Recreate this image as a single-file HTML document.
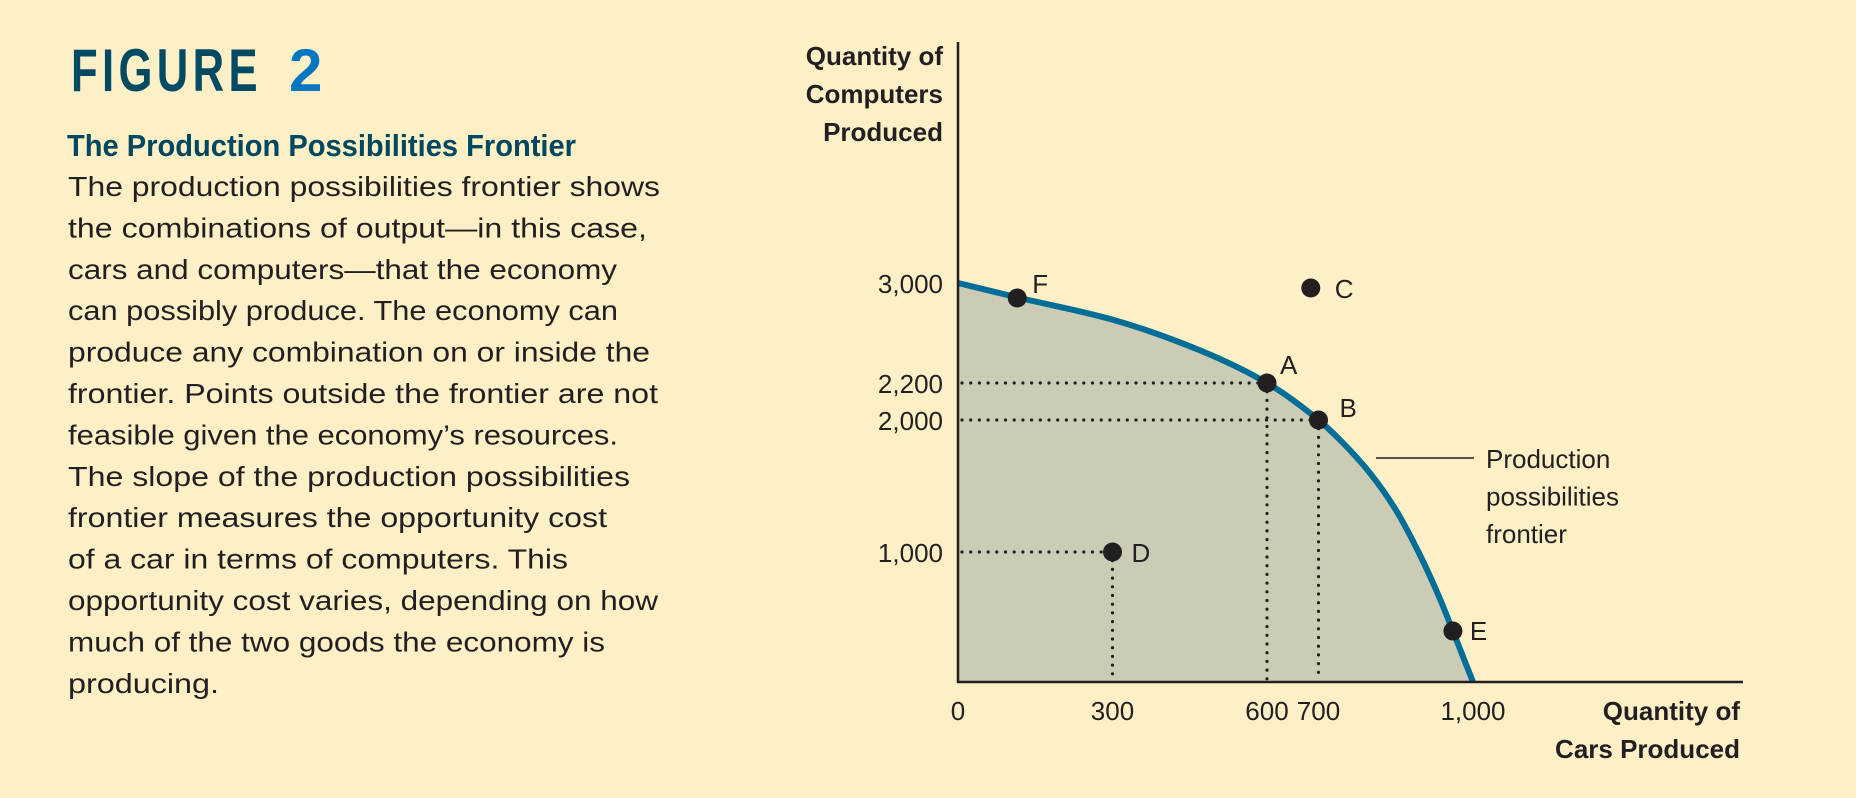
<!DOCTYPE html>
<html><head><meta charset="utf-8"><style>
html,body{margin:0;padding:0;background:#fdefc6;}
svg{display:block;}
text{font-family:"Liberation Sans",sans-serif;fill:#231f20;}
</style></head><body>
<svg id="fig" width="1856" height="798" viewBox="0 0 1856 798">
<rect x="0" y="0" width="1856" height="798" fill="#fdefc6"/>
<g>
<text x="71" y="91" font-size="60" font-weight="bold" style="fill:#004a63;letter-spacing:6px" textLength="191" lengthAdjust="spacingAndGlyphs">FIGURE</text>
<text x="289" y="91" font-size="60" font-weight="bold" style="fill:#0077c0">2</text>
<text x="67" y="156" font-size="31" font-weight="bold" style="fill:#00475f" textLength="509" lengthAdjust="spacingAndGlyphs">The Production Possibilities Frontier</text>
<g font-size="28">
<text x="68" y="196" textLength="592" lengthAdjust="spacingAndGlyphs">The production possibilities frontier shows</text>
<text x="68" y="237.4" textLength="579" lengthAdjust="spacingAndGlyphs">the combinations of output—in this case,</text>
<text x="68" y="278.8" textLength="549" lengthAdjust="spacingAndGlyphs">cars and computers—that the economy</text>
<text x="68" y="320.2" textLength="550" lengthAdjust="spacingAndGlyphs">can possibly produce. The economy can</text>
<text x="68" y="361.6" textLength="582" lengthAdjust="spacingAndGlyphs">produce any combination on or inside the</text>
<text x="68" y="403" textLength="590" lengthAdjust="spacingAndGlyphs">frontier. Points outside the frontier are not</text>
<text x="68" y="444.4" textLength="550" lengthAdjust="spacingAndGlyphs">feasible given the economy’s resources.</text>
<text x="68" y="485.8" textLength="562" lengthAdjust="spacingAndGlyphs">The slope of the production possibilities</text>
<text x="68" y="527.2" textLength="539" lengthAdjust="spacingAndGlyphs">frontier measures the opportunity cost</text>
<text x="68" y="568.6" textLength="500" lengthAdjust="spacingAndGlyphs">of a car in terms of computers. This</text>
<text x="68" y="610" textLength="590" lengthAdjust="spacingAndGlyphs">opportunity cost varies, depending on how</text>
<text x="68" y="651.4" textLength="537" lengthAdjust="spacingAndGlyphs">much of the two goods the economy is</text>
<text x="68" y="692.8" textLength="151" lengthAdjust="spacingAndGlyphs">producing.</text>
</g>
</g>
<g id="chart"></g>
</svg>
<script>
// ---- data ----
const curveCars = [0, 115, 300, 470, 600, 700, 742, 800, 849, 897, 936, 961, 1000];
const curveComputers = [3000, 2885, 2707, 2461, 2200, 2000, 1848, 1598, 1326, 977, 638, 392, 0];
const pointLabels = ['F', 'C', 'A', 'B', 'D', 'E'];
const pointCars = [115, 685, 600, 700, 300, 961];
const pointComputers = [2880, 2960, 2200, 2000, 1000, 392];
const guidePoints = ['A', 'B', 'D'];
const xTicks = [0, 300, 600, 700, 1000];
const xTickLabels = ['0', '300', '600', '700', '1,000'];
const yTicks = [1000, 2000, 2200, 3000];
const yTickLabels = ['1,000', '2,000', '2,200', '3,000'];

// ---- axes (non-uniform vertical scale as in the textbook figure) ----
const X0 = 958, XPX = 0.515;
function xs(v){ return X0 + v * XPX; }
const yDom = [0, 1000, 2000, 2200, 3000];
const yRng = [682, 552, 420, 383, 283];
function ys(v){
  for (let i = 0; i < yDom.length - 1; i++) {
    if (v <= yDom[i+1] || i === yDom.length - 2) {
      const t = (v - yDom[i]) / (yDom[i+1] - yDom[i]);
      return yRng[i] + t * (yRng[i+1] - yRng[i]);
    }
  }
}
const NS = 'http://www.w3.org/2000/svg';
const g = document.getElementById('chart');
function mk(tag, attrs, parent){
  const e = document.createElementNS(NS, tag);
  for (const k in attrs) e.setAttribute(k, attrs[k]);
  (parent || g).appendChild(e);
  return e;
}
// monotone cubic (Fritsch-Carlson) in pixel space
function smooth(pts){
  const n = pts.length, dx = [], m = [], t = [];
  for (let i = 0; i < n - 1; i++) { dx.push(pts[i+1][0]-pts[i][0]); m.push((pts[i+1][1]-pts[i][1])/dx[i]); }
  t[0] = m[0]; t[n-1] = m[n-2];
  for (let i = 1; i < n - 1; i++) {
    if (m[i-1]*m[i] <= 0) t[i] = 0;
    else { const w1 = 2*dx[i]+dx[i-1], w2 = dx[i]+2*dx[i-1]; t[i] = (w1+w2)/(w1/m[i-1]+w2/m[i]); }
  }
  let d = 'M' + pts[0][0] + ',' + pts[0][1];
  for (let i = 0; i < n - 1; i++) {
    const h = dx[i] / 3;
    d += ' C' + (pts[i][0]+h) + ',' + (pts[i][1]+t[i]*h) + ' ' + (pts[i+1][0]-h) + ',' + (pts[i+1][1]-t[i+1]*h) + ' ' + pts[i+1][0] + ',' + pts[i+1][1];
  }
  return d;
}
const cpts = curveCars.map((c, i) => [xs(c), ys(curveComputers[i])]);
const cd = smooth(cpts);

const area = mk('path', {d: cd + ' L' + xs(0) + ',' + ys(0) + ' Z', fill: '#cccbb6'});



guidePoints.forEach(lbl => {
  const i = pointLabels.indexOf(lbl);
  const px = xs(pointCars[i]), py = ys(pointComputers[i]);
  const h = mk('line', {x1: xs(0) + 4, y1: py, x2: px, y2: py, stroke: '#231f20', 'stroke-width': 3.2, 'stroke-linecap': 'round', 'stroke-dasharray': '0 8.7'});
  
  
  const v = mk('line', {x1: px, y1: py, x2: px, y2: ys(0) - 3, stroke: '#231f20', 'stroke-width': 3.2, 'stroke-linecap': 'round', 'stroke-dasharray': '0 8.7'});
  
  
});

const curve = mk('path', {d: cd, fill: 'none', stroke: '#006e96', 'stroke-width': 6});



const yAxis = mk('line', {x1: X0, y1: 42, x2: X0, y2: 683, stroke: '#231f20', 'stroke-width': 2.5});


const xAxis = mk('line', {x1: X0 - 1, y1: 682, x2: 1743, y2: 682, stroke: '#231f20', 'stroke-width': 2.5});



xTicks.forEach((v, i) => {
  const t = mk('text', {x: xs(v), y: 720, 'font-size': 26, 'text-anchor': 'middle'});
  t.textContent = xTickLabels[i];
  
  
});
yTicks.forEach((v, i) => {
  const t = mk('text', {x: 943, y: ys(v) + 10, 'font-size': 26, 'text-anchor': 'end'});
  t.textContent = yTickLabels[i];
  
  
});

['Quantity of', 'Computers', 'Produced'].forEach((s, i) => {
  const t = mk('text', {x: 943, y: 65 + i * 38, 'font-size': 26, 'font-weight': 'bold', 'text-anchor': 'end'});
  t.textContent = s;
  
  
});
['Quantity of', 'Cars Produced'].forEach((s, i) => {
  const t = mk('text', {x: 1740, y: 720 + i * 38, 'font-size': 26, 'font-weight': 'bold', 'text-anchor': 'end'});
  t.textContent = s;
  
  
});

const lblOff = {F: [15, -5], C: [24, 10], A: [13, -9], B: [21, -3], D: [19, 10], E: [17, 9]};
pointLabels.forEach((lbl, i) => {
  const px = xs(pointCars[i]), py = ys(pointComputers[i]);
  const c = mk('circle', {cx: px, cy: py, r: 9.5, fill: '#231f20'});
  
  
  const t = mk('text', {x: px + lblOff[lbl][0], y: py + lblOff[lbl][1], 'font-size': 26});
  t.textContent = lbl;
  
  
});

const lead = mk('line', {x1: 1376, y1: 458, x2: 1474, y2: 458, stroke: '#231f20', 'stroke-width': 1.6});


['Production', 'possibilities', 'frontier'].forEach((s, i) => {
  const t = mk('text', {x: 1486, y: 468 + i * 37.5, 'font-size': 26});
  t.textContent = s;
  
  
});
</script>
</body></html>
